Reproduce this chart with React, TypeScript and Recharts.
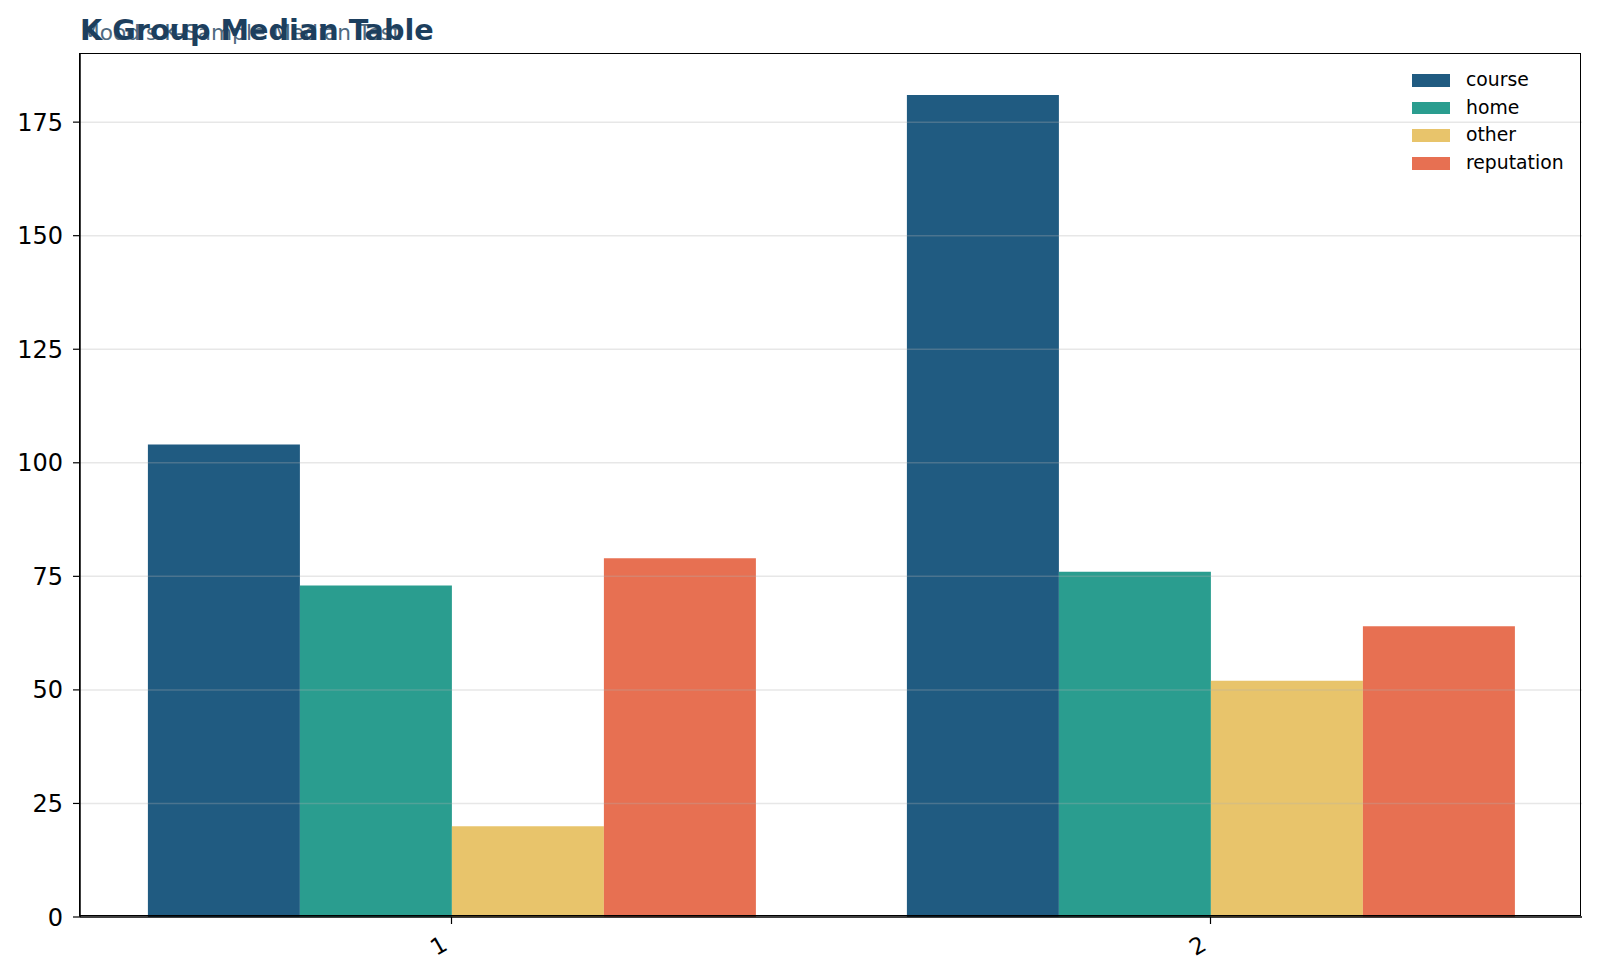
import { Bar, BarChart, ReferenceLine, XAxis, YAxis } from 'recharts'

const GROUPS = ['1', '2']
const COURSE = [104, 181]
const HOME = [73, 76]
const OTHER = [20, 52]
const REPUTATION = [79, 64]
const Y_TICKS = [0, 25, 50, 75, 100, 125, 150, 175]

const SERIES = [
  { key: 'course', color: '#205b81' },
  { key: 'home', color: '#2a9d8f' },
  { key: 'other', color: '#e8c46b' },
  { key: 'reputation', color: '#e77052' },
]

const data = GROUPS.map((g, i) => ({
  group: g,
  course: COURSE[i],
  home: HOME[i],
  other: OTHER[i],
  reputation: REPUTATION[i],
}))

const FONT = '"DejaVu Sans", sans-serif'

// plot box, in page pixels
const PLOT = { left: 80, top: 54, right: 1582, bottom: 917 }

function RotatedTick(props: any) {
  const { x, y, payload } = props
  return (
    <g transform={`translate(${x - 10},${y + 10})`}>
      <text
        transform="rotate(-30)"
        textAnchor="end"
        dy={15}
        fontSize={23}
        fontFamily={FONT}
        fill="#000"
      >
        {payload.value}
      </text>
    </g>
  )
}

function LegendBox() {
  return (
    <div
      style={{
        position: 'absolute',
        left: 1412,
        top: 66.3,
        fontFamily: FONT,
      }}
    >
      {SERIES.map((s) => (
        <div key={s.key} style={{ display: 'flex', alignItems: 'center', height: 27.8 }}>
          <span style={{ width: 38, height: 12.7, background: s.color, display: 'inline-block' }} />
          <span style={{ marginLeft: 16, fontSize: 18.8, color: '#000', lineHeight: 1 }}>{s.key}</span>
        </div>
      ))}
    </div>
  )
}

export default function App() {
  return (
    <div style={{ position: 'fixed', left: 0, top: 0, width: 1600, height: 978, background: '#fff' }}>
      <div
        style={{
          position: 'absolute',
          left: 81,
          top: 21.6,
          fontFamily: FONT,
          fontSize: 21.7,
          lineHeight: 1,
          color: '#4f6a80',
        }}
      >
        Mood's K-Sample Median Test
      </div>
      <div
        style={{
          position: 'absolute',
          left: 80,
          top: 15.7,
          fontFamily: FONT,
          fontSize: 28.7,
          lineHeight: 1,
          fontWeight: 'bold',
          color: '#1d3f5e',
        }}
      >
        K Group Median Table
      </div>
      <BarChart
        width={1600}
        height={978}
        data={data}
        margin={{ top: PLOT.top, right: 1600 - PLOT.right, bottom: 0, left: PLOT.left - 72 }}
        barCategoryGap="10%"
        barGap={0}
      >
        <XAxis
          dataKey="group"
          height={978 - PLOT.bottom}
          padding={{ left: -8, right: -8 }}
          axisLine={{ stroke: '#000', strokeWidth: 1.5 }}
          tickLine={{ stroke: '#000', strokeWidth: 1.2 }}
          tickSize={7}
          tick={<RotatedTick />}
        />
        <YAxis
          width={72}
          domain={[0, 190]}
          ticks={Y_TICKS}
          allowDataOverflow
          axisLine={{ stroke: '#000', strokeWidth: 1.5 }}
          tickLine={{ stroke: '#000', strokeWidth: 1.2 }}
          tickSize={7}
          tickMargin={10}
          tick={{ fill: '#000', fontSize: 24, fontFamily: FONT }}
        />
        {SERIES.map((s) => (
          <Bar key={s.key} dataKey={s.key} fill={s.color} isAnimationActive={false} />
        ))}
        {Y_TICKS.filter((t) => t > 0).map((t) => (
          <ReferenceLine key={t} y={t} stroke="#b0b0b0" strokeOpacity={0.3} strokeWidth={1.5} />
        ))}
      </BarChart>
      <LegendBox />
      <div
        style={{
          position: 'absolute',
          left: PLOT.left,
          top: PLOT.top,
          width: PLOT.right - PLOT.left,
          height: PLOT.bottom - PLOT.top,
          border: '1.5px solid #000',
          boxSizing: 'border-box',
          marginLeft: -0.75,
          marginTop: -0.75,
          pointerEvents: 'none',
        }}
      />
    </div>
  )
}
